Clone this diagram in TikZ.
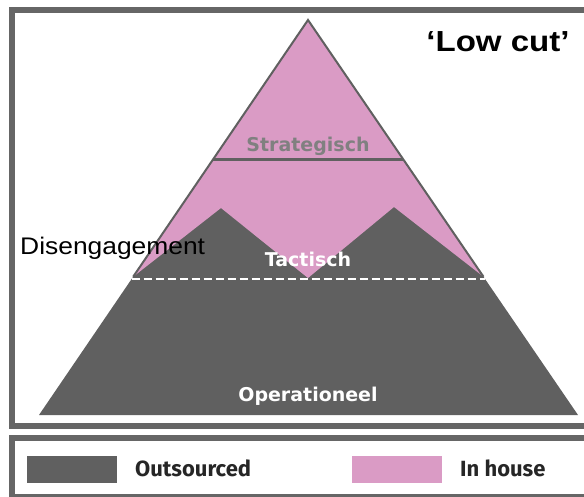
\documentclass[tikz,border=0pt]{standalone}
\usepackage{fontspec}
\usepackage{graphicx}
\setmainfont{Liberation Sans}
\newfontfamily\fira{Fira Sans}
\newfontfamily\dvs{DejaVu Sans}
\usetikzlibrary{calc}
\definecolor{outgray}{RGB}{96,96,96}
\definecolor{inpink}{RGB}{218,155,197}
\definecolor{framegray}{RGB}{102,102,102}
\definecolor{stratgray}{RGB}{128,128,128}
\tikzset{
  frame/.style={draw=framegray, line width=6pt},
  edge/.style={draw=outgray, line width=2pt, line join=miter},
  layerlabel/.style={font=\dvs\bfseries\fontsize{19}{22}\selectfont, anchor=base, inner sep=0pt},
  legbox/.style={minimum width=90pt, minimum height=27pt, inner sep=0pt},
  legtext/.style={font=\fira\bfseries\fontsize{22}{26}\selectfont, text=black!85, anchor=base west, inner sep=0pt}
}
\begin{document}
\begin{tikzpicture}[x=1pt,y=-1pt]
\useasboundingbox (0,0) rectangle (584,497);
\clip (0,0) rectangle (584,497);
% frames
\draw[frame] (12,10) rectangle (620,426);
\draw[frame] (12,438) rectangle (620,497);
% pyramid
\coordinate (A) at (308,20);
\coordinate (BL) at (39,415);
\coordinate (BR) at (578,415);
\coordinate (S1) at ($(A)!0.352!(BL)$);
\coordinate (S2) at ($(A)!0.352!(BR)$);
\coordinate (D1) at ($(A)!0.656!(BL)$);
\coordinate (D2) at ($(A)!0.656!(BR)$);
\coordinate (PL) at ($(A)!0.650!(BL)$);
\coordinate (PR) at ($(A)!0.650!(BR)$);
\coordinate (M1) at (221,208);
\coordinate (V) at (308,278);
\coordinate (M2) at (394,207);
\fill[outgray] (A) -- (BL) -- (BR) -- cycle;
\fill[inpink] (A) -- (PL) -- (M1) -- (V) -- (M2) -- (PR) -- cycle;
\draw[edge] (PL) -- (A) -- (PR);
\draw[edge, line width=3pt] (S1) -- (S2);
\draw[white, line width=1.5pt, dash pattern=on 8pt off 4pt] (D1) -- (D2);
% labels
\node[layerlabel, text=stratgray] (strat) at (308,152) {Strategisch};
\node[layerlabel, text=white] (tact) at (308,267) {Tactisch};
\node[layerlabel, text=white] (oper) at (308,401) {Operationeel};
\node[font=\bfseries\fontsize{29}{32}\selectfont, anchor=base, inner sep=0pt] (title) at (498,52) {\scalebox{1.14}[1]{‘Low cut’}};
\node[font=\fontsize{24}{28}\selectfont, anchor=base west, inner sep=0pt] (dis) at (20,255) {\scalebox{1.1}[1]{Disengagement}};
% legend
\node[legbox, fill=outgray] (kout) at (71.5,469.5) {};
\node[legtext] (tout) at (135,476) {Outsourced};
\node[legbox, fill=inpink] (kin) at (396.5,469.5) {};
\node[legtext] (tin) at (460,476) {In house};
\end{tikzpicture}
\end{document}
